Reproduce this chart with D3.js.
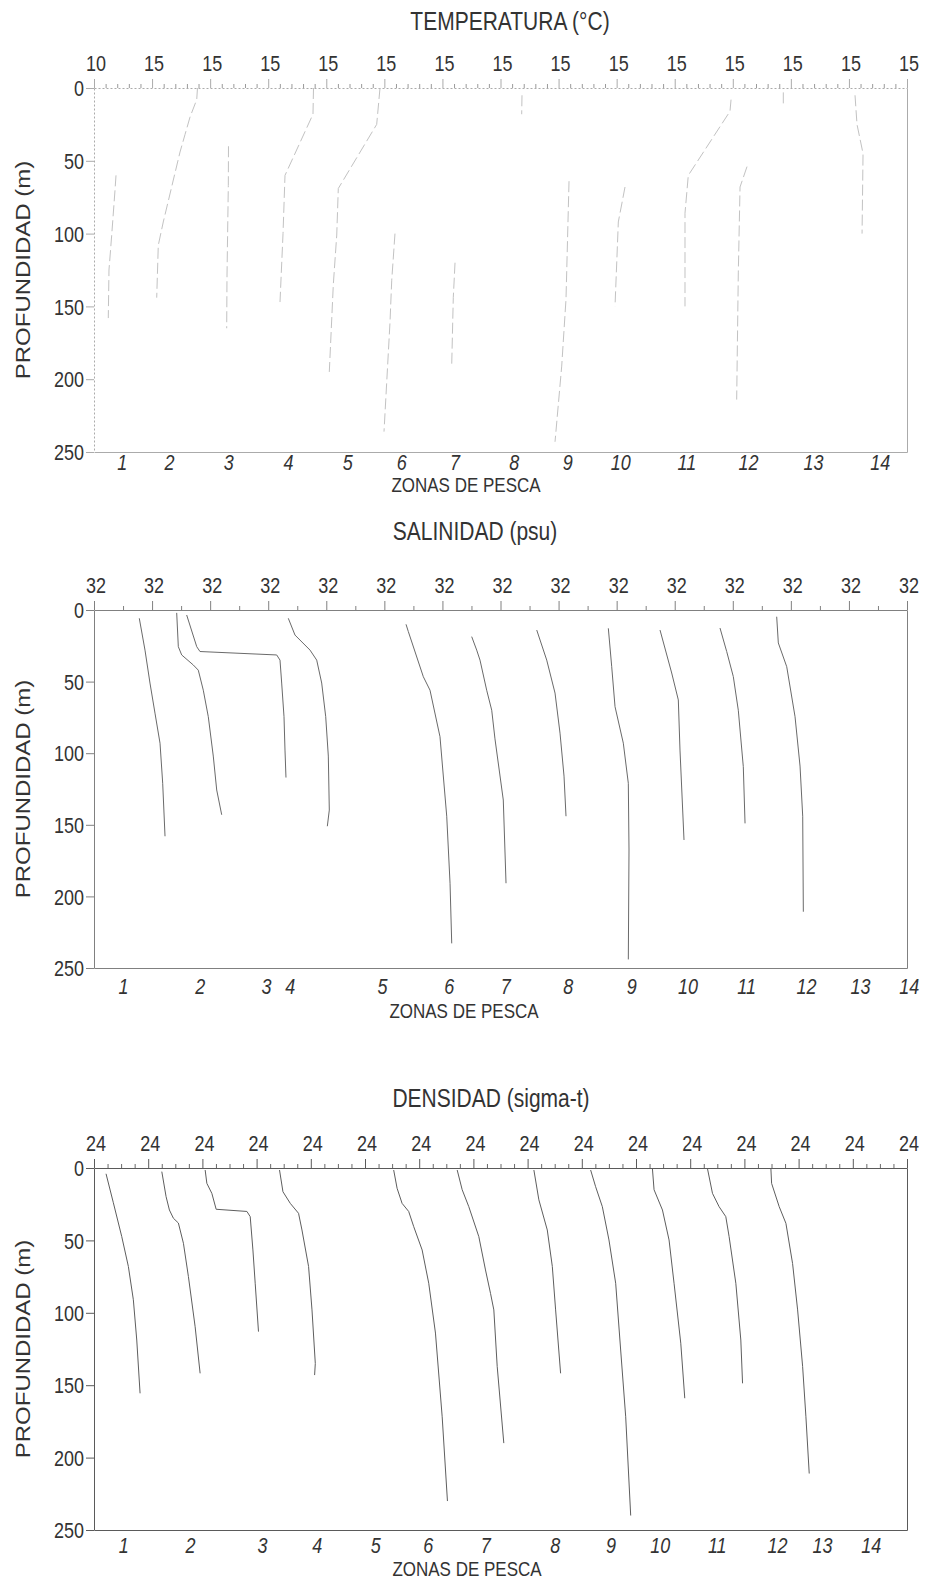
<!DOCTYPE html>
<html>
<head>
<meta charset="utf-8">
<script src="https://cdn.jsdelivr.net/npm/d3@7"></script>
<style>
  html, body { margin: 0; padding: 0; background: #fff; }
  svg { display: block; font-family: "Liberation Sans", Arial, sans-serif; }
</style>
</head>
<body>
<svg id="chart" width="926" height="1585"></svg>
<script>
// ---------------- DATA ----------------
const depthTicks = [0, 50, 100, 150, 200, 250];
const zoneNumbers = [1, 2, 3, 4, 5, 6, 7, 8, 9, 10, 11, 12, 13, 14];

const tempTopLabels = ["10","15","15","15","15","15","15","15","15","15","15","15","15","15","15"];
const salTopLabels  = ["32","32","32","32","32","32","32","32","32","32","32","32","32","32","32"];
const densTopLabels = ["24","24","24","24","24","24","24","24","24","24","24","24","24","24","24","24"];

// position of each zone label along the offset axis (axis units)
const tempZonePos = [0.48, 1.29, 2.31, 3.34, 4.36, 5.29, 6.21, 7.23, 8.15, 9.06, 10.20, 11.26, 12.38, 13.53];
const salZonePos  = [0.50, 1.82, 2.96, 3.37, 4.96, 6.11, 7.08, 8.16, 9.25, 10.22, 11.23, 12.26, 13.19, 14.03];
const densZonePos = [0.54, 1.77, 3.10, 4.11, 5.19, 6.16, 7.22, 8.50, 9.53, 10.44, 11.49, 12.60, 13.43, 14.33];

// profiles: [depth (m), position on offset axis]
const tempProfiles = [
  [[60,0.379],[70,0.362],[101,0.305],[125,0.258],[158,0.246]],
  [[0,1.782],[8,1.769],[20,1.653],[32,1.567],[44,1.481],[92,1.193],[108,1.107],[144,1.080]],
  [[40,2.316],[67,2.313],[130,2.290],[165,2.285]],
  [[0,3.780],[18,3.771],[60,3.289],[100,3.255],[147,3.203]],
  [[0,4.925],[25,4.868],[69,4.207],[101,4.180],[135,4.121],[195,4.052]],
  [[100,5.183],[132,5.127],[161,5.097],[236,4.994]],
  [[120,6.217],[144,6.187],[190,6.160]],
  [[5,7.370],[18,7.365]],
  [[64,8.180],[145,8.128],[191,8.054],[243,7.939]],
  [[68,9.144],[92,9.029],[150,8.972]],
  [[8,10.970],[16,10.952],[60,10.234],[86,10.177],[150,10.177]],
  [[54,11.245],[68,11.125],[127,11.095],[214,11.067]],
  [[3,11.870],[12,11.870]],
  [[5,13.105],[25,13.139],[45,13.243],[100,13.226]]
];

const salProfiles = [
  [[5.8,0.780],[28,0.878],[51,0.964],[72,1.050],[93,1.137],[121,1.183],[158,1.223]],
  [[2,1.424],[25.6,1.452],[31.4,1.510],[38.4,1.710],[42,1.796],[56,1.882],[74.5,1.968],[102,2.054],[125.7,2.113],[143,2.199]],
  [[3.5,1.596],[25.6,1.769],[29,1.825],[31.4,3.146],[35,3.203],[51,3.232],[74.5,3.272],[97.8,3.289],[117,3.306]],
  [[5.8,3.346],[17.5,3.461],[28,3.720],[35,3.835],[51,3.921],[74.5,3.990],[102,4.035],[139.7,4.052],[151,4.018]],
  [[10,5.373],[15,5.412],[46.6,5.671],[56,5.786],[88.5,5.958],[144,6.074],[190.8,6.131],[232.8,6.160]],
  [[18.6,6.504],[28,6.590],[35,6.647],[56,6.762],[70,6.849],[90,6.905],[132.7,7.048],[190.8,7.095]],
  [[14,7.624],[35,7.796],[58,7.939],[86,8.025],[116,8.094],[144,8.128]],
  [[12.8,8.857],[39.6,8.915],[67.5,8.972],[93,9.115],[121,9.201],[167.6,9.213],[244,9.201]],
  [[14,9.747],[44,9.948],[62.8,10.062],[97.8,10.091],[160.6,10.160]],
  [[12.6,10.780],[29,10.895],[46.5,11.009],[70,11.095],[109.4,11.181],[149,11.211]],
  [[4.7,11.756],[23,11.784],[39.6,11.929],[74.5,12.072],[109,12.158],[144,12.204],[210.7,12.215]]
];

const densProfiles = [
  [[4,0.222],[24,0.357],[47.4,0.512],[68,0.634],[91,0.726],[118.8,0.789],[155.6,0.850]],
  [[2.5,1.251],[19.8,1.330],[29,1.391],[34.7,1.465],[38,1.557],[52,1.650],[75,1.742],[109.6,1.866],[141.8,1.958]],
  [[1.4,2.051],[10.6,2.082],[17.5,2.174],[28.5,2.254],[30,2.821],[33.6,2.882],[56.6,2.932],[79.6,2.974],[113,3.035]],
  [[1.4,3.423],[16.4,3.486],[24.4,3.621],[31.3,3.774],[42.8,3.837],[68,3.959],[98,4.022],[135,4.083],[143,4.070]],
  [[1.4,5.529],[14,5.592],[24.4,5.684],[30,5.806],[40.5,5.899],[56.6,6.054],[79.6,6.176],[114,6.300],[171.8,6.424],[230,6.521]],
  [[1.4,6.701],[15,6.793],[26.7,6.915],[47.4,7.100],[70.4,7.223],[86.6,7.316],[98,7.377],[137,7.439],[190,7.561]],
  [[1.4,8.116],[22,8.208],[42.8,8.363],[68,8.456],[98,8.517],[141.8,8.609]],
  [[1.4,9.163],[12.9,9.255],[26.7,9.379],[49.7,9.501],[79.6,9.625],[125.7,9.717],[171.8,9.810],[240,9.902]],
  [[0.5,10.303],[15,10.333],[29,10.488],[49.7,10.610],[79.6,10.702],[121,10.826],[159,10.900]],
  [[0.5,11.319],[17.5,11.411],[26.7,11.533],[33.6,11.657],[47.4,11.718],[79.6,11.842],[118.8,11.934],[148.7,11.966]],
  [[0.5,12.489],[10.6,12.502],[26.7,12.642],[38.2,12.766],[66,12.889],[98,12.982],[137,13.074],[171.8,13.135],[211,13.196]]
];

// ---------------- LAYOUT / STYLE ----------------
const SY = 1.2;           // vertical stretch of the scanned lettering
const TEXT = "#333";
const panels = [
  { title: "TEMPERATURA (°C)", titleX: 510, titleY: 21, top: 88, bottom: 452,
    n: 14, sub: 5, topLabels: tempTopLabels, zonePos: tempZonePos, zoneDy: 10,
    zonasX: 466, zonasY: 485, profiles: tempProfiles,
    axisColor: "#ababab", axisDash: "2,2", lineColor: "#c2c2c2", lineDash: "11,4", lineWidth: 1,
    minorColor: "#9a9a9a" },
  { title: "SALINIDAD (psu)", titleX: 475, titleY: 531, top: 610, bottom: 968,
    n: 14, sub: 2, topLabels: salTopLabels, zonePos: salZonePos, zoneDy: 18,
    zonasX: 464, zonasY: 1011, profiles: salProfiles,
    axisColor: "#808080", axisDash: null, lineColor: "#6a6a6a", lineDash: null, lineWidth: 1,
    minorColor: "#808080" },
  { title: "DENSIDAD (sigma-t)", titleX: 491, titleY: 1098, top: 1168, bottom: 1530,
    n: 15, sub: 4, topLabels: densTopLabels, zonePos: densZonePos, zoneDy: 15,
    zonasX: 467, zonasY: 1569, profiles: densProfiles,
    axisColor: "#5a5a5a", axisDash: null, lineColor: "#5e5e5e", lineDash: null, lineWidth: 1,
    minorColor: "#6a6a6a" }
];
const LEFT = 94, RIGHT = 907;

const svg = d3.select("#chart");

function stretchedText(g, x, y, str, size, opts = {}) {
  // y is the visual vertical centre of capital letters
  const capH = 0.716 * size * SY;
  return g.append("text")
    .attr("transform", `translate(${x},${y + capH / 2}) scale(1,${SY})`)
    .attr("text-anchor", opts.anchor || "middle")
    .attr("font-size", size)
    .attr("font-style", opts.italic ? "italic" : null)
    .attr("fill", TEXT)
    .text(str);
}

function styleTicks(sel, color, yCenter, xOff, size, italic) {
  const capH = 0.716 * size * SY;
  sel.selectAll(".tick line").attr("stroke", color);
  sel.selectAll(".tick text")
    .attr("fill", TEXT)
    .attr("font-size", size)
    .attr("font-style", italic ? "italic" : null)
    .attr("dy", null)
    .attr("x", xOff)
    .attr("y", (yCenter + capH / 2) / SY)
    .attr("transform", `scale(1,${SY})`);
}

panels.forEach(p => {
  const g = svg.append("g");
  const x = d3.scaleLinear().domain([0, p.n]).range([LEFT, RIGHT]);
  const y = d3.scaleLinear().domain([0, 250]).range([p.top, p.bottom]);

  // title
  stretchedText(g, p.titleX, p.titleY, p.title, 21);

  // top axis – majors
  const majors = d3.range(p.n + 1);
  const topAx = g.append("g").attr("transform", `translate(0,${p.top})`)
    .call(d3.axisTop(x).tickValues(majors).tickSize(9).tickSizeOuter(0)
      .tickFormat((d, i) => p.topLabels[i]));
  topAx.select(".domain").attr("stroke", p.axisColor).attr("stroke-dasharray", p.axisDash);
  styleTicks(topAx, p.axisColor, -25, 1.5, 18, false);

  // top axis – minors
  const minors = [];
  for (let i = 0; i < p.n; i++) for (let k = 1; k < p.sub; k++) minors.push(i + k / p.sub);
  const minAx = g.append("g").attr("transform", `translate(0,${p.top})`)
    .call(d3.axisTop(x).tickValues(minors).tickSize(4).tickSizeOuter(0).tickFormat(""));
  minAx.select(".domain").remove();
  minAx.selectAll(".tick line").attr("stroke", p.minorColor);

  // left axis
  const leftAx = g.append("g").attr("transform", `translate(${LEFT},0)`)
    .call(d3.axisLeft(y).tickValues(depthTicks).tickSize(8).tickSizeOuter(0));
  leftAx.select(".domain").attr("stroke", p.axisColor).attr("stroke-dasharray", p.axisDash);
  styleTicks(leftAx, p.axisColor, 0, -10, 18, false);

  // right frame line
  const rightAx = g.append("g").attr("transform", `translate(${RIGHT},0)`)
    .call(d3.axisRight(y).tickValues([]).tickSizeOuter(0));
  rightAx.select(".domain").attr("stroke", p.axisColor);

  // bottom axis with zone labels
  const botAx = g.append("g").attr("transform", `translate(0,${p.bottom})`)
    .call(d3.axisBottom(x).tickValues(p.zonePos).tickSize(0).tickSizeOuter(0)
      .tickFormat((d, i) => zoneNumbers[i]));
  botAx.select(".domain").attr("stroke", p.axisColor);
  styleTicks(botAx, "none", p.zoneDy, 0, 18, true);

  stretchedText(g, p.zonasX, p.zonasY, "ZONAS DE PESCA", 17);

  // y axis title
  const cy = (p.top + p.bottom) / 2;
  const fs = 20;
  g.append("text")
    .attr("transform", `translate(${23 + 0.716 * fs / 2},${cy}) rotate(-90) scale(${SY},1)`)
    .attr("text-anchor", "middle")
    .attr("font-size", fs)
    .attr("fill", TEXT)
    .text("PROFUNDIDAD (m)");

  // profiles
  const line = d3.line().x(d => x(d[1])).y(d => y(d[0]));
  g.append("g").selectAll("path").data(p.profiles).join("path")
    .attr("d", line)
    .attr("fill", "none")
    .attr("stroke", p.lineColor)
    .attr("stroke-width", p.lineWidth)
    .attr("stroke-dasharray", p.lineDash)
    .attr("stroke-linejoin", "round");
});
</script>
</body>
</html>
